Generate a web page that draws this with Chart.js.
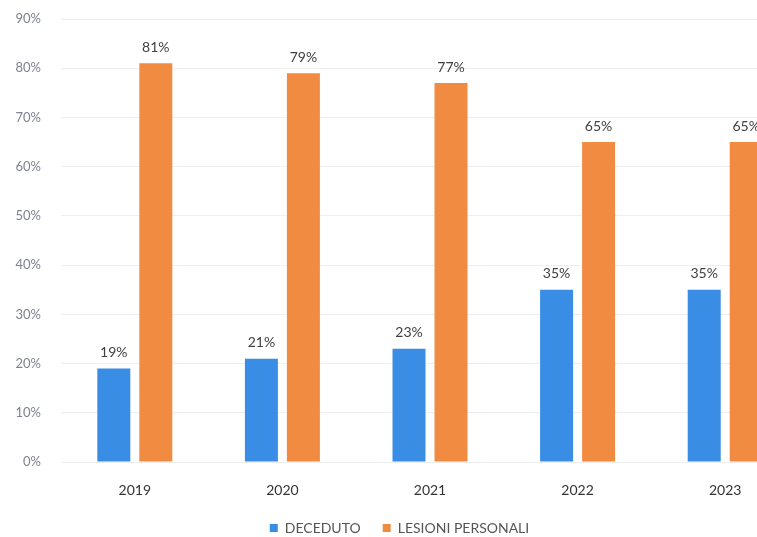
<!DOCTYPE html>
<html>
<head>
<meta charset="utf-8">
<script src="https://cdn.jsdelivr.net/npm/chart.js@4.4.0/dist/chart.umd.min.js"></script>
<style>
html,body{margin:0;padding:0;background:#fff;overflow:hidden;width:757px;height:537px;}
#wrap{width:815px;height:537px;}
</style>
</head>
<body>
<div id="wrap"><canvas id="c" width="815" height="537"></canvas></div>
<script>
const categories = ["2019", "2020", "2021", "2022", "2023"];
const deceduto = [19, 21, 23, 35, 35];
const lesioni = [81, 79, 77, 65, 65];
const seriesNames = ["DECEDUTO", "LESIONI PERSONALI"];
const yTicks = [0, 10, 20, 30, 40, 50, 60, 70, 80, 90];

const FONT = "Lato, 'Liberation Sans', sans-serif";

const labelPlugin = {
  id: 'barLabels',
  afterDatasetsDraw(chart) {
    const ctx = chart.ctx;
    ctx.save();
    ctx.font = "14px " + FONT;
    ctx.fillStyle = "#404040";
    ctx.textAlign = "center";
    ctx.textBaseline = "bottom";
    chart.data.datasets.forEach((ds, i) => {
      const meta = chart.getDatasetMeta(i);
      meta.data.forEach((el, j) => {
        ctx.fillText(ds.data[j] + "%", el.x, el.y - 9);
      });
    });
    ctx.restore();
  }
};

new Chart(document.getElementById('c'), {
  type: 'bar',
  data: {
    labels: categories,
    datasets: [
      { label: seriesNames[0], data: deceduto, backgroundColor: "#3a8de4", categoryPercentage: 0.569, barPercentage: 0.786 },
      { label: seriesNames[1], data: lesioni, backgroundColor: "#f28b42", categoryPercentage: 0.569, barPercentage: 0.786 }
    ]
  },
  options: {
    responsive: false,
    animation: false,
    layout: { padding: { top: 19, left: 0, right: 16, bottom: -8 } },
    plugins: {
      legend: {
        position: 'bottom',
        labels: {
          boxWidth: 8, boxHeight: 8, padding: 22,
          color: "#555555",
          font: { family: FONT, size: 14 }
        }
      },
      tooltip: { enabled: false }
    },
    scales: {
      x: {
        afterFit(scale) { scale.height = 37; },
        grid: { display: false, drawTicks: false },
        border: { display: false },
        ticks: { color: "#333333", font: { family: FONT, size: 14 }, padding: 20 }
      },
      y: {
        min: 0, max: 90,
        afterFit(scale) { scale.width = 61; scale.paddingTop = 0; scale.paddingBottom = 0; },
        afterBuildTicks(scale) { scale.ticks = yTicks.map(v => ({ value: v })); },
        grid: { color: "#eeeeee", drawTicks: false },
        border: { display: false },
        ticks: { color: "#7d8290", font: { family: FONT, size: 13 }, padding: 20, callback: v => v + "%" }
      }
    }
  },
  plugins: [labelPlugin]
});
</script>
</body>
</html>
